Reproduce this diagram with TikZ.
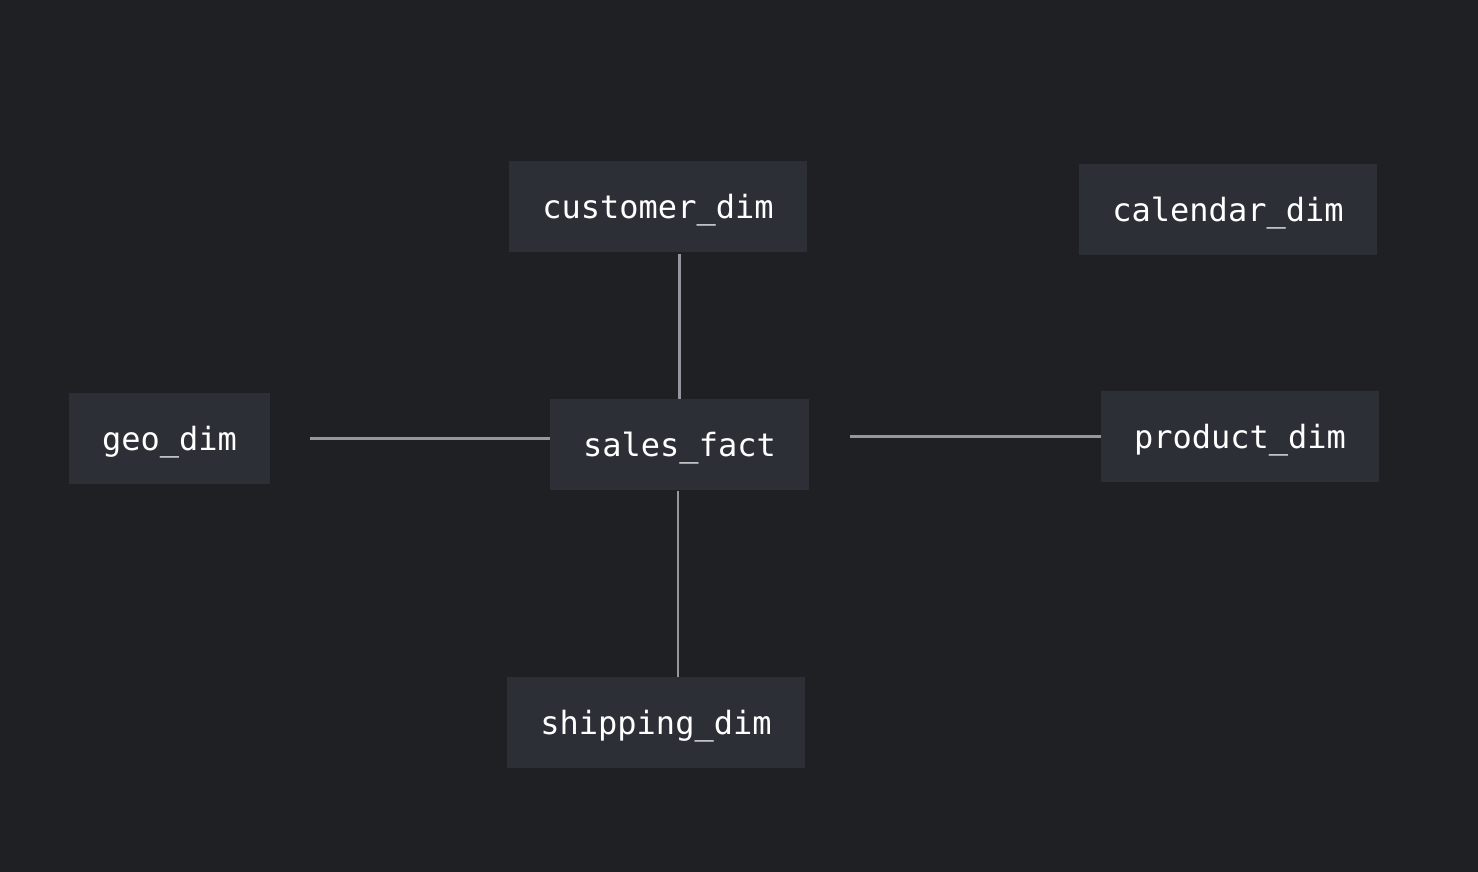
\documentclass[tikz,border=0pt]{standalone}
\usepackage{fontspec}
\setmonofont{DejaVu Sans Mono}
\usepackage{tikz}
\usetikzlibrary{calc}
\definecolor{bgdark}{RGB}{31,32,36}
\definecolor{boxfill}{RGB}{44,47,54}
\definecolor{linkgray}{RGB}{150,150,158}
\tikzset{
	tablebox/.style={fill=boxfill, draw=none, text=white, font=\ttfamily\fontsize{16pt}{19pt}\selectfont,
		inner xsep=16.5pt, inner ysep=0pt, minimum height=45.5pt, text height=13pt, text depth=1pt},
	joinline/.style={draw=linkgray, line width=1.1pt}
}

\begin{document}
\begin{tikzpicture}[x=0.5pt, y=-0.5pt]
		%%%%% START %%%%%
		
		\fill[bgdark] (0, 0) rectangle (1478, 872);
		\useasboundingbox (0, 0) rectangle (1478, 872);
		
		\node[tablebox] (customer) at (658, 206.5) {customer\_dim};
		\node[tablebox] (calendar) at (1228, 209.5) {calendar\_dim};
		\node[tablebox] (geo) at (169.5, 438.5) {geo\_dim};
		\node[tablebox] (sales) at (679.5, 444.5) {sales\_fact};
		\node[tablebox] (product) at (1240, 436.5) {product\_dim};
		\node[tablebox] (shipping) at (656, 722.5) {shipping\_dim};
		
		\draw[joinline] ($(customer.south -| sales.north)+(0,2)$) -- (sales.north);
		\draw[joinline] ($(geo.east)+(40,0)$) -- (geo.east -| sales.west);
		\draw[joinline] ($(sales.east |- product.west)+(41,0)$) -- (product.west);
		\draw[joinline] ($(sales.south)+(-1.5,1)$) -- ($(sales.south |- shipping.north)+(-1.5,0)$);
		
		%%%%% END %%%%%
	\end{tikzpicture}
\end{document}
